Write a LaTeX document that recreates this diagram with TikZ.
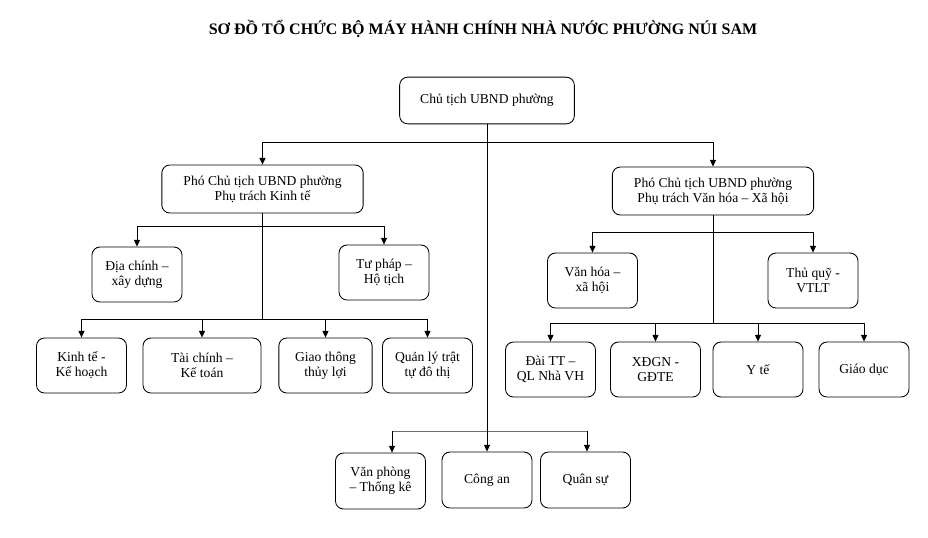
\documentclass[tikz,border=0pt]{standalone}
\usepackage{fontspec}
\setmainfont{Liberation Serif}
\usetikzlibrary{arrows.meta}

\definecolor{linhblue}{RGB}{68,114,196}

\tikzset{
  box/.style={draw, rounded corners=6pt, align=center, inner sep=1pt,
    minimum width=67.5pt, minimum height=41.25pt,
    font=\fontsize{10.2}{11.2}\selectfont},
  arr/.style={-{Triangle[length=5pt,width=4.5pt]}}
}

\begin{document}
\begin{tikzpicture}[x=0.75pt, y=-0.75pt, line width=0.65pt]
\useasboundingbox (0,0) rectangle (928,537);

% Tieu de
\node (title) at (483,29) {\fontsize{12}{14}\selectfont\bfseries SƠ ĐỒ TỔ CHỨC BỘ MÁY HÀNH CHÍNH NHÀ NƯỚC PHƯỜNG NÚI SAM};

% Chu tich va hai pho chu tich
\node[box, minimum width=131pt, minimum height=35pt] (chutich) at (487,100.5) {Chủ tịch UBND phường};
\node[box, minimum width=151pt, minimum height=36pt] (phoKT) at (262.5,189) {Phó Chủ tịch UBND phường\\Phụ trách Kinh tế};
\node[box, minimum width=151pt, minimum height=36pt] (phoVH) at (713,191) {Phó Chủ tịch UBND phường\\Phụ trách Văn hóa – Xã hội};

% Khoi kinh te
\node[box] (diachinh) at (137,274.5) {Địa chính –\\xây dựng};
\node[box] (tuphap) at (384,272.5) {Tư pháp –\\Hộ tịch};
\node[box] (kinhte) at (81.5,365.5) {Kinh tế -\\Kế hoạch};
\node[box, minimum width=88.5pt] (taichinh) at (202,365.5) {Tài chính –\\Kế toán};
\node[box, minimum width=70pt] (giaothong) at (325.5,365.5) {Giao thông\\thủy lợi};
\node[box] (quanly) at (427.5,365.5) {Quản lý trật\\tự đô thị};

% Khoi van hoa - xa hoi
\node[box] (vanhoa) at (592.5,280.5) {Văn hóa –\\xã hội};
\node[box] (thuquy) at (813,280.5) {Thủ quỹ -\\VTLT};
\node[box] (daitt) at (550.5,369.5) {Đài TT –\\QL Nhà VH};
\node[box] (xdgn) at (655.5,369.5) {XĐGN -\\GĐTE};
\node[box] (yte) at (758,369.5) {Y tế};
\node[box] (giaoduc) at (864,369.5) {Giáo dục};

% Khoi truc thuoc chu tich
\node[box, minimum height=42pt] (vanphong) at (380.5,481) {Văn phòng\\– Thống kê};
\node[box, minimum height=42pt] (congan) at (487,480) {Công an};
\node[box, minimum height=42pt] (quansu) at (585.5,480) {Quân sự};

% Diem re nhanh
\coordinate (jtop) at (487,142);
\coordinate (jKT1) at (262.5,226);
\coordinate (jKT2) at (262.5,319);
\coordinate (jVH1) at (713,232);
\coordinate (jVH2) at (713,323);
\coordinate (jVP) at (392,431);
\coordinate (jQS) at (587,431);

% Nhanh duoi (mau xanh)
\draw[linhblue] (jVP) -- (jQS);
\draw[arr] (jVP) -- (jVP |- vanphong.north);
\draw[arr] (jQS) -- (jQS |- quansu.north);

% Duong noi chinh
\draw[arr] (chutich.south) -- (congan.north);
\draw[arr] (jtop) -| (phoKT);
\draw[arr] (jtop) -| (phoVH);

% Nhanh kinh te
\draw (phoKT.south) -- (jKT2);
\draw[arr] (jKT1) -| (diachinh);
\draw[arr] (jKT1) -| (tuphap);
\draw[arr] (jKT2) -| (kinhte);
\draw[arr] (jKT2) -| (taichinh);
\draw[arr] (jKT2) -| (giaothong);
\draw[arr] (jKT2) -| (quanly);

% Nhanh van hoa - xa hoi
\draw (phoVH.south) -- (jVH2);
\draw[arr] (jVH1) -| (vanhoa);
\draw[arr] (jVH1) -| (thuquy);
\draw[arr] (jVH2) -| (daitt);
\draw[arr] (jVH2) -| (xdgn);
\draw[arr] (jVH2) -| (yte);
\draw[arr] (jVH2) -| (giaoduc);

\end{tikzpicture}
\end{document}
